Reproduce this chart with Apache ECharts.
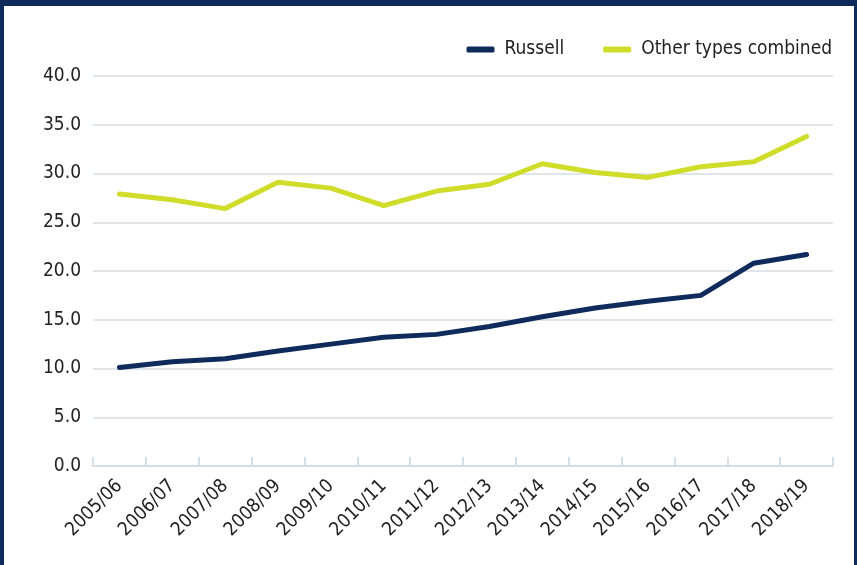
<!DOCTYPE html>
<html>
<head>
<meta charset="utf-8">
<script src="https://cdn.jsdelivr.net/npm/echarts@6/dist/echarts.min.js"></script>
<style>
html,body{margin:0;padding:0;background:#fff;}
#chart{width:857px;height:565px;}
</style>
</head>
<body>
<div id="chart"></div>
<script>
const categories = ['2005/06','2006/07','2007/08','2008/09','2009/10','2010/11','2011/12','2012/13','2013/14','2014/15','2015/16','2016/17','2017/18','2018/19'];
const russell = [10.1, 10.7, 11.0, 11.8, 12.5, 13.2, 13.5, 14.3, 15.3, 16.2, 16.9, 17.5, 20.8, 21.7];
const otherTypes = [27.9, 27.3, 26.4, 29.1, 28.5, 26.7, 28.2, 28.9, 31.0, 30.1, 29.6, 30.7, 31.2, 33.8];
const seriesNames = ['Russell', 'Other types combined'];

const NAVY = '#0e2b5c';
const LIME = '#cfdd2a';
const FONT = '"Liberation Sans Narrow", "DejaVu Sans Condensed", "Liberation Sans", sans-serif';
const GRIDC = '#d3dee6';

const chart = echarts.init(document.getElementById('chart'), null, {renderer: 'canvas'});
chart.setOption({
  animation: false,
  backgroundColor: '#ffffff',
  textStyle: {fontFamily: FONT},
  graphic: [
    {type: 'rect', shape: {x: 0, y: 0, width: 857, height: 6}, style: {fill: NAVY}},
    {type: 'rect', shape: {x: 0, y: 0, width: 4, height: 565}, style: {fill: NAVY}},
    {type: 'rect', shape: {x: 854, y: 0, width: 3, height: 565}, style: {fill: NAVY}}
  ],
  legend: {
    right: 20,
    top: 35,
    itemWidth: 28,
    itemHeight: 6,
    itemGap: 39,
    icon: 'roundRect',
    textStyle: {fontFamily: FONT, fontSize: 19, color: '#222', padding: [0, 0, 0, 5]},
    data: seriesNames
  },
  grid: {left: 93, right: 24, top: 76, bottom: 99, containLabel: false},
  xAxis: {
    type: 'category',
    data: categories,
    boundaryGap: true,
    axisLine: {show: true, lineStyle: {color: GRIDC, width: 2}},
    axisTick: {show: true, inside: true, length: 9, alignWithLabel: false, lineStyle: {color: GRIDC, width: 2}},
    axisLabel: {rotate: 45, fontFamily: FONT, fontSize: 19, color: '#222', margin: 17, interval: 0}
  },
  yAxis: {
    type: 'value',
    min: 0,
    max: 40,
    interval: 5,
    axisLine: {show: false},
    axisTick: {show: false},
    splitLine: {lineStyle: {color: GRIDC, width: 1.5}},
    axisLabel: {fontFamily: FONT, fontSize: 19, color: '#222', margin: 12, formatter: v => v.toFixed(1)}
  },
  series: [
    {
      name: seriesNames[0], type: 'line', data: russell, showSymbol: false, symbol: 'none',
      lineStyle: {color: NAVY, width: 5, cap: 'round', join: 'round'},
      itemStyle: {color: NAVY}
    },
    {
      name: seriesNames[1], type: 'line', data: otherTypes, showSymbol: false, symbol: 'none',
      lineStyle: {color: LIME, width: 5, cap: 'round', join: 'round'},
      itemStyle: {color: LIME}
    }
  ]
});
</script>
</body>
</html>
